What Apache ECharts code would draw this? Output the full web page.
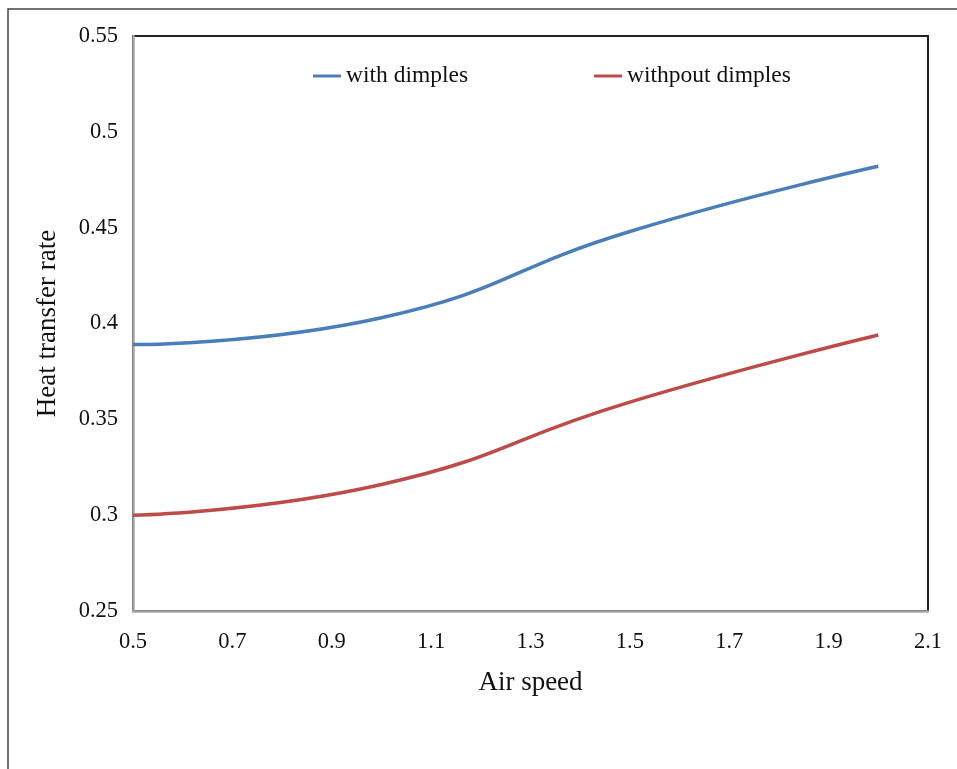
<!DOCTYPE html>
<html>
<head>
<meta charset="utf-8">
<script src="https://cdn.jsdelivr.net/npm/echarts@6/dist/echarts.min.js"></script>
<style>
html,body{margin:0;padding:0;background:#fff;}
#chart{width:957px;height:769px;}
</style>
</head>
<body>
<div id="chart"></div>
<script>
const airSpeed = [0.5, 1.0, 1.5, 2.0];
const withDimples = [0.389, 0.403, 0.448, 0.482];
const withoutDimples = [0.300, 0.316, 0.359, 0.394];
const seriesNames = ['with dimples', 'withpout dimples'];
const xTicks = [0.5, 0.7, 0.9, 1.1, 1.3, 1.5, 1.7, 1.9, 2.1];
const yTicks = [0.25, 0.3, 0.35, 0.4, 0.45, 0.5, 0.55];

const font = '"Liberation Serif", "Times New Roman", serif';
const chart = echarts.init(document.getElementById('chart'));
chart.setOption({
  backgroundColor: '#fff',
  animation: false,
  graphic: [{
    type: 'rect', silent: true, z: 0,
    shape: { x: 8, y: 9, width: 1000, height: 800 },
    style: { fill: 'none', stroke: '#444', lineWidth: 1.5 }
  }],
  legend: {
    top: 59, left: 308,
    itemGap: 126,
    itemWidth: 28, itemHeight: 3,
    icon: 'rect',
    textStyle: { fontFamily: font, fontSize: 23.5, color: '#111' },
    data: seriesNames
  },
  grid: {
    left: 133, right: 29, top: 36, bottom: 158,
    show: true, borderColor: '#222', borderWidth: 2, backgroundColor: 'transparent'
  },
  xAxis: {
    type: 'value', min: 0.5, max: 2.1, interval: 0.2,
    name: 'Air speed', nameLocation: 'middle', nameGap: 58,
    nameTextStyle: { fontFamily: font, fontSize: 27, color: '#111' },
    axisLine: { show: true, lineStyle: { color: '#a6a6a6', width: 2.5 } },
    axisTick: { show: false },
    splitLine: { show: false },
    axisLabel: {
      fontFamily: font, fontSize: 22.5, color: '#111', margin: 20,
      formatter: v => { const t = xTicks.find(k => Math.abs(k - v) < 1e-6); return t === undefined ? '' : String(t); }
    }
  },
  yAxis: {
    type: 'value', min: 0.25, max: 0.55, interval: 0.05,
    name: 'Heat transfer rate', nameLocation: 'middle', nameGap: 72,
    nameTextStyle: { fontFamily: font, fontSize: 27, color: '#111' },
    axisLine: { show: true, lineStyle: { color: '#a6a6a6', width: 2.5 } },
    axisTick: { show: false },
    splitLine: { show: false },
    axisLabel: {
      fontFamily: font, fontSize: 22.5, color: '#111', margin: 15,
      formatter: v => { const t = yTicks.find(k => Math.abs(k - v) < 1e-6); return t === undefined ? '' : String(t); }
    }
  },
  series: [
    {
      name: seriesNames[0], type: 'line', smooth: 0.5, showSymbol: false,
      lineStyle: { color: '#4a7ebb', width: 3.5 }, itemStyle: { color: '#4a7ebb' },
      data: airSpeed.map((x, i) => [x, withDimples[i]])
    },
    {
      name: seriesNames[1], type: 'line', smooth: 0.5, showSymbol: false,
      lineStyle: { color: '#be4b48', width: 3.5 }, itemStyle: { color: '#be4b48' },
      data: airSpeed.map((x, i) => [x, withoutDimples[i]])
    }
  ]
});
</script>
</body>
</html>
